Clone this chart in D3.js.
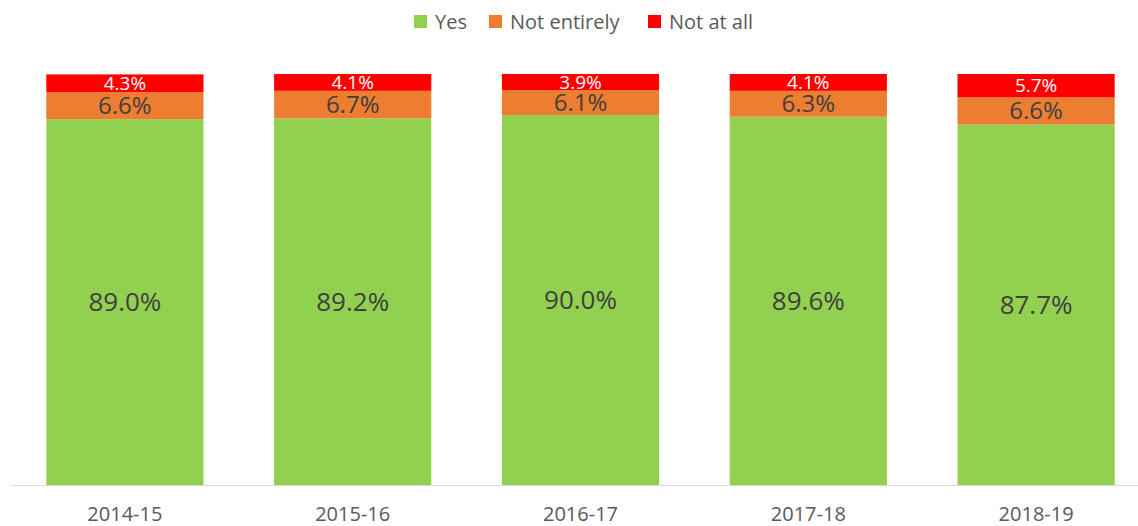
<!DOCTYPE html>
<html>
<head>
<meta charset="utf-8">
<script src="https://cdn.jsdelivr.net/npm/d3@7"></script>
<style>
  body { margin: 0; background: #fff; }
  svg { display: block; font-family: "Open Sans", sans-serif; }
</style>
</head>
<body>
<svg id="chart" width="1138" height="526"></svg>
<script>
// 年度ごとの回答割合 (%)
const years = ['2014-15', '2015-16', '2016-17', '2017-18', '2018-19'];
const yes = [89.0, 89.2, 90.0, 89.6, 87.7];
const notEntirely = [6.6, 6.7, 6.1, 6.3, 6.6];
const notAtAll = [4.3, 4.1, 3.9, 4.1, 5.7];
const seriesNames = ['Yes', 'Not entirely', 'Not at all'];
const colors = ['#92d050', '#ed7d31', '#ff0000'];

const svg = d3.select('#chart');

const rows = years.map((year, i) => ({
  year,
  'Yes': yes[i],
  'Not entirely': notEntirely[i],
  'Not at all': notAtAll[i]
}));

const stack = d3.stack().keys(seriesNames)(rows);

const x = d3.scaleBand()
  .domain(years)
  .range([11, 1150])
  .paddingInner(0.31)
  .paddingOuter(0.155);

const y = d3.scaleLinear()
  .domain([0, 100])
  .range([485, 74]);

const color = d3.scaleOrdinal().domain(seriesNames).range(colors);

// 棒
const layers = svg.append('g')
  .selectAll('g')
  .data(stack)
  .join('g')
  .attr('fill', d => color(d.key));

layers.selectAll('rect')
  .data(d => d)
  .join('rect')
  .attr('x', d => x(d.data.year))
  .attr('width', x.bandwidth())
  .attr('y', d => y(d[1]))
  .attr('height', d => y(d[0]) - y(d[1]));

// ラベル (赤と橙は元の図でも少し重なっている)
const labelStyle = {
  'Yes': { size: 26, fill: '#404040' },
  'Not entirely': { size: 24, fill: '#404040' },
  'Not at all': { size: 19, fill: '#ffffff' }
};

layers.each(function (layer) {
  const st = labelStyle[layer.key];
  d3.select(this).selectAll('text')
    .data(layer)
    .join('text')
    .attr('x', d => x(d.data.year) + x.bandwidth() / 2)
    .attr('y', d => (y(d[0]) + y(d[1])) / 2)
    .attr('dy', '0.35em')
    .attr('text-anchor', 'middle')
    .attr('font-size', st.size)
    .attr('fill', st.fill)
    .text(d => `${(d[1] - d[0]).toFixed(1)}%`);
});

// 軸
const axis = svg.append('g')
  .attr('transform', 'translate(0,485.5)')
  .call(d3.axisBottom(x).tickSize(0).tickPadding(21));
axis.select('.domain').attr('stroke', '#d9d9d9').attr('d', 'M11,0H1138');
axis.selectAll('text')
  .attr('font-family', '"Open Sans", sans-serif')
  .attr('font-size', 20)
  .attr('fill', '#595959');

// 凡例
const legendPos = [414, 489, 648];
const legend = svg.append('g')
  .selectAll('g')
  .data(seriesNames)
  .join('g')
  .attr('transform', (d, i) => `translate(${legendPos[i]},15)`);

legend.append('rect')
  .attr('width', 13)
  .attr('height', 13)
  .attr('fill', d => color(d));

legend.append('text')
  .attr('x', 21)
  .attr('y', 6.5)
  .attr('dy', '0.35em')
  .attr('font-size', 20)
  .attr('fill', '#595959')
  .text(d => d);
</script>
</body>
</html>
